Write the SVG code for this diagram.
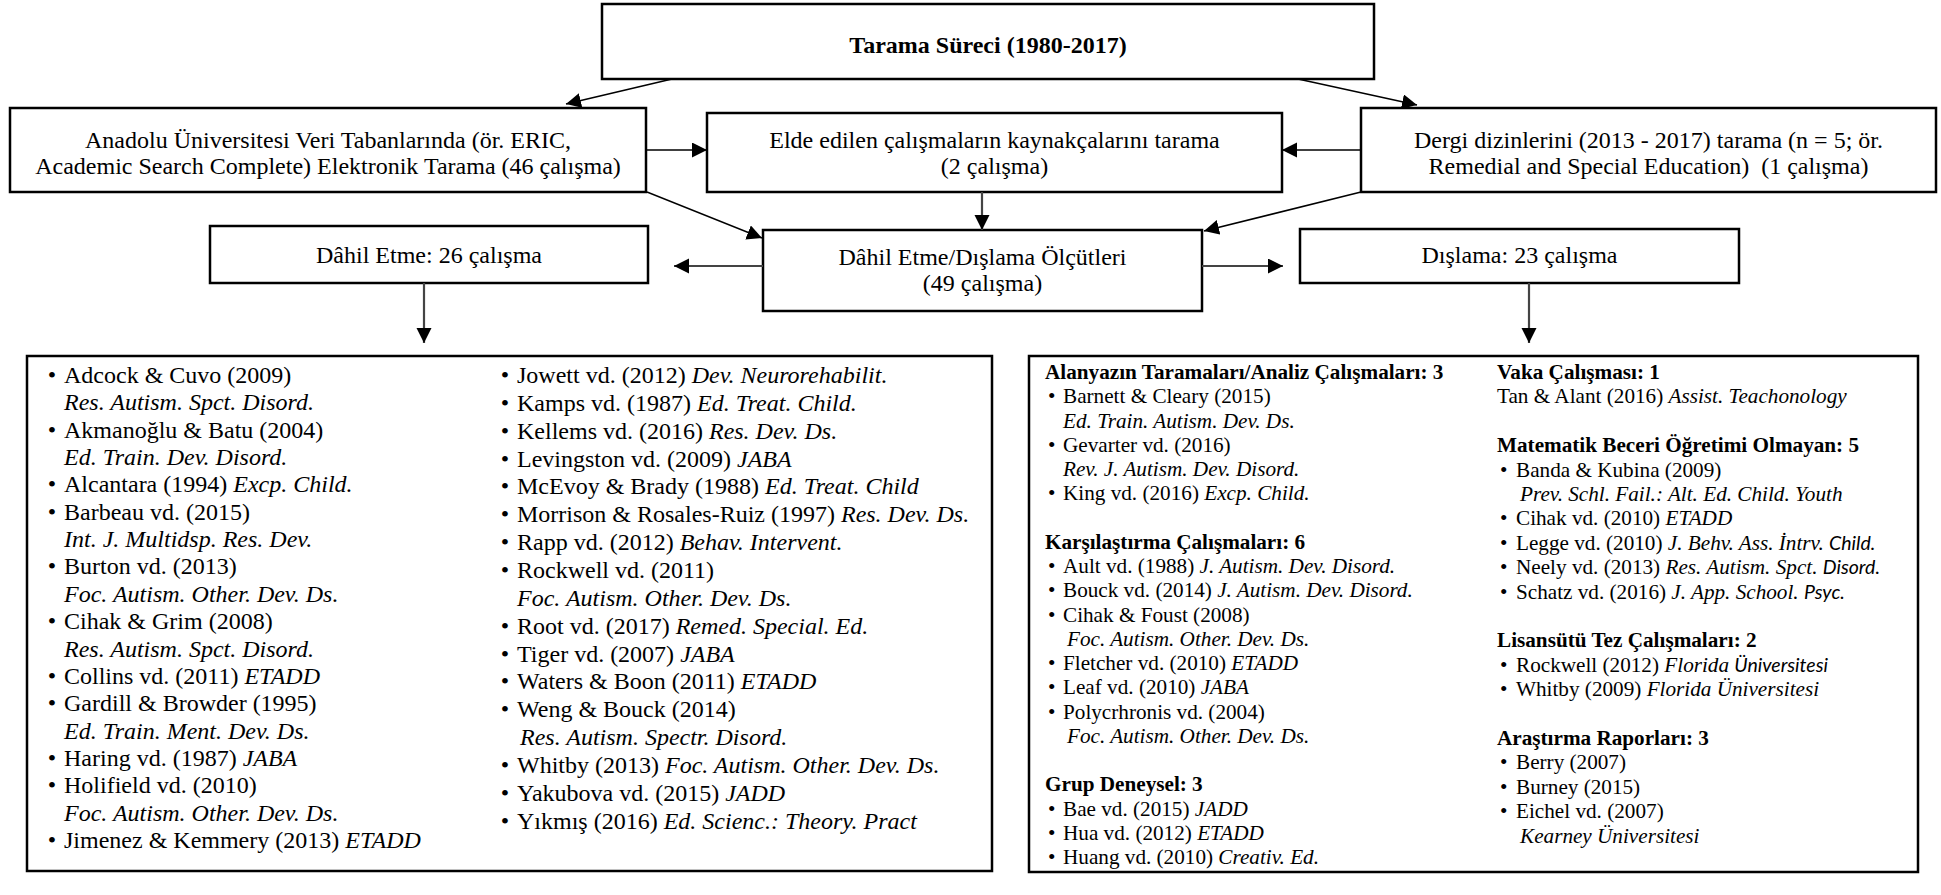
<svg xmlns="http://www.w3.org/2000/svg" width="1941" height="895" viewBox="0 0 1941 895">
<style>
.box{fill:#fff;stroke:#000;stroke-width:2.5}
.t{font-family:"Liberation Serif","Times New Roman",serif;font-size:24px;fill:#000}
.c{text-anchor:middle}
.b{font-weight:bold}
.i{font-style:italic}
.s{font-size:21.2px}
.sa{font-family:Lato,"Liberation Sans",sans-serif;font-style:italic;font-size:19.5px}
.ln{stroke:#000;stroke-width:1.5;fill:none}
.lg{stroke:#444;stroke-width:2.2;fill:none}
</style>
<defs>
<marker id="ah" markerUnits="userSpaceOnUse" markerWidth="16" markerHeight="16" refX="15" refY="7.5" orient="auto"><path d="M0,0 L15,7.5 L0,15 z" fill="#000"/></marker>
</defs>
<rect width="1941" height="895" fill="#fff"/>

<g id="n-tarama">
<rect class="box" x="602" y="4" width="772" height="75"/>
<text class="t b c" x="988" y="53">Tarama Süreci (1980-2017)</text>
</g>

<g id="n-anadolu">
<rect class="box" x="10" y="108" width="636" height="84"/>
<text class="t c" x="328" y="148">Anadolu Üniversitesi Veri Tabanlarında (ör. ERIC,</text>
<text class="t c" x="328" y="174">Academic Search Complete) Elektronik Tarama (46 çalışma)</text>
</g>

<g id="n-elde">
<rect class="box" x="707" y="113" width="575" height="79"/>
<text class="t c" x="994.5" y="148">Elde edilen çalışmaların kaynakçalarını tarama</text>
<text class="t c" x="994.5" y="174">(2 çalışma)</text>
</g>

<g id="n-dergi">
<rect class="box" x="1361" y="108" width="575" height="84"/>
<text class="t c" x="1648.5" y="148">Dergi dizinlerini (2013 - 2017) tarama (n = 5; ör.</text>
<text class="t c" x="1648.5" y="174" xml:space="preserve">Remedial and Special Education)  (1 çalışma)</text>
</g>

<g id="n-dahil">
<rect class="box" x="210" y="226" width="438" height="57"/>
<text class="t c" x="429" y="263">Dâhil Etme: 26 çalışma</text>
</g>

<g id="n-olcut">
<rect class="box" x="763" y="230" width="439" height="81"/>
<text class="t c" x="982.5" y="265">Dâhil Etme/Dışlama Ölçütleri</text>
<text class="t c" x="982.5" y="291">(49 çalışma)</text>
</g>

<g id="n-dislama">
<rect class="box" x="1300" y="229" width="439" height="54"/>
<text class="t c" x="1519.5" y="263">Dışlama: 23 çalışma</text>
</g>

<g id="n-dahil-liste">
<rect class="box" x="27" y="356" width="965" height="515"/>
<g class="t">
<text x="47.8" y="383">•</text><text x="64" y="383">Adcock &amp; Cuvo (2009)</text>
<text x="64" y="410.35" class="i">Res. Autism. Spct. Disord.</text>
<text x="47.8" y="437.7">•</text><text x="64" y="437.7">Akmanoğlu &amp; Batu (2004)</text>
<text x="64" y="465.05" class="i">Ed. Train. Dev. Disord.</text>
<text x="47.8" y="492.4">•</text><text x="64" y="492.4">Alcantara (1994) <tspan class="i">Excp. Child.</tspan></text>
<text x="47.8" y="519.75">•</text><text x="64" y="519.75">Barbeau vd. (2015)</text>
<text x="64" y="547.1" class="i">Int. J. Multidsp. Res. Dev.</text>
<text x="47.8" y="574.45">•</text><text x="64" y="574.45">Burton vd. (2013)</text>
<text x="64" y="601.8" class="i">Foc. Autism. Other. Dev. Ds.</text>
<text x="47.8" y="629.15">•</text><text x="64" y="629.15">Cihak &amp; Grim (2008)</text>
<text x="64" y="656.5" class="i">Res. Autism. Spct. Disord.</text>
<text x="47.8" y="683.85">•</text><text x="64" y="683.85">Collins vd. (2011) <tspan class="i">ETADD</tspan></text>
<text x="47.8" y="711.2">•</text><text x="64" y="711.2">Gardill &amp; Browder (1995)</text>
<text x="64" y="738.55" class="i">Ed. Train. Ment. Dev. Ds.</text>
<text x="47.8" y="765.9">•</text><text x="64" y="765.9">Haring vd. (1987) <tspan class="i">JABA</tspan></text>
<text x="47.8" y="793.25">•</text><text x="64" y="793.25">Holifield vd. (2010)</text>
<text x="64" y="820.6" class="i">Foc. Autism. Other. Dev. Ds.</text>
<text x="47.8" y="847.95">•</text><text x="64" y="847.95">Jimenez &amp; Kemmery (2013) <tspan class="i">ETADD</tspan></text>

<text x="500.8" y="383">•</text><text x="517" y="383">Jowett vd. (2012) <tspan class="i">Dev. Neurorehabilit.</tspan></text>
<text x="500.8" y="410.85">•</text><text x="517" y="410.85">Kamps vd. (1987) <tspan class="i">Ed. Treat. Child.</tspan></text>
<text x="500.8" y="438.7">•</text><text x="517" y="438.7">Kellems vd. (2016) <tspan class="i">Res. Dev. Ds.</tspan></text>
<text x="500.8" y="466.55">•</text><text x="517" y="466.55">Levingston vd. (2009) <tspan class="i">JABA</tspan></text>
<text x="500.8" y="494.4">•</text><text x="517" y="494.4">McEvoy &amp; Brady (1988) <tspan class="i">Ed. Treat. Child</tspan></text>
<text x="500.8" y="522.25">•</text><text x="517" y="522.25">Morrison &amp; Rosales-Ruiz (1997) <tspan class="i">Res. Dev. Ds.</tspan></text>
<text x="500.8" y="550.1">•</text><text x="517" y="550.1">Rapp vd. (2012) <tspan class="i">Behav. Intervent.</tspan></text>
<text x="500.8" y="577.95">•</text><text x="517" y="577.95">Rockwell vd. (2011)</text>
<text x="517" y="605.8" class="i">Foc. Autism. Other. Dev. Ds.</text>
<text x="500.8" y="633.65">•</text><text x="517" y="633.65">Root vd. (2017) <tspan class="i">Remed. Special. Ed.</tspan></text>
<text x="500.8" y="661.5">•</text><text x="517" y="661.5">Tiger vd. (2007) <tspan class="i">JABA</tspan></text>
<text x="500.8" y="689.35">•</text><text x="517" y="689.35">Waters &amp; Boon (2011) <tspan class="i">ETADD</tspan></text>
<text x="500.8" y="717.2">•</text><text x="517" y="717.2">Weng &amp; Bouck (2014)</text>
<text x="520" y="745.05" class="i">Res. Autism. Spectr. Disord.</text>
<text x="500.8" y="772.9">•</text><text x="517" y="772.9">Whitby (2013) <tspan class="i">Foc. Autism. Other. Dev. Ds.</tspan></text>
<text x="500.8" y="800.75">•</text><text x="517" y="800.75">Yakubova vd. (2015) <tspan class="i">JADD</tspan></text>
<text x="500.8" y="828.6">•</text><text x="517" y="828.6">Yıkmış (2016) <tspan class="i">Ed. Scienc.: Theory. Pract</tspan></text>
</g>
</g>

<g id="n-dislama-liste">
<rect class="box" x="1029" y="356" width="889" height="516"/>
<g class="t s">
<text x="1045" y="379" class="b">Alanyazın Taramaları/Analiz Çalışmaları: 3</text>
<text x="1048" y="403.25">•</text><text x="1063" y="403.25">Barnett &amp; Cleary (2015)</text>
<text x="1063" y="427.5" class="i">Ed. Train. Autism. Dev. Ds.</text>
<text x="1048" y="451.75">•</text><text x="1063" y="451.75">Gevarter vd. (2016)</text>
<text x="1063" y="476" class="i">Rev. J. Autism. Dev. Disord.</text>
<text x="1048" y="500.25">•</text><text x="1063" y="500.25">King vd. (2016) <tspan class="i">Excp. Child.</tspan></text>
<text x="1045" y="548.75" class="b">Karşılaştırma Çalışmaları: 6</text>
<text x="1048" y="573">•</text><text x="1063" y="573">Ault vd. (1988) <tspan class="i">J. Autism. Dev. Disord.</tspan></text>
<text x="1048" y="597.25">•</text><text x="1063" y="597.25">Bouck vd. (2014) <tspan class="i">J. Autism. Dev. Disord.</tspan></text>
<text x="1048" y="621.5">•</text><text x="1063" y="621.5">Cihak &amp; Foust (2008)</text>
<text x="1067" y="645.75" class="i">Foc. Autism. Other. Dev. Ds.</text>
<text x="1048" y="670">•</text><text x="1063" y="670">Fletcher vd. (2010) <tspan class="i">ETADD</tspan></text>
<text x="1048" y="694.25">•</text><text x="1063" y="694.25">Leaf vd. (2010) <tspan class="i">JABA</tspan></text>
<text x="1048" y="718.5">•</text><text x="1063" y="718.5">Polycrhronis vd. (2004)</text>
<text x="1067" y="742.75" class="i">Foc. Autism. Other. Dev. Ds.</text>
<text x="1045" y="791.25" class="b">Grup Deneysel: 3</text>
<text x="1048" y="815.5">•</text><text x="1063" y="815.5">Bae vd. (2015) <tspan class="i">JADD</tspan></text>
<text x="1048" y="839.75">•</text><text x="1063" y="839.75">Hua vd. (2012) <tspan class="i">ETADD</tspan></text>
<text x="1048" y="864">•</text><text x="1063" y="864">Huang vd. (2010) <tspan class="i">Creativ. Ed.</tspan></text>

<text x="1497" y="379" class="b">Vaka Çalışması: 1</text>
<text x="1497" y="403.4">Tan &amp; Alant (2016) <tspan class="i">Assist. Teachonology</tspan></text>
<text x="1497" y="452.2" class="b">Matematik Beceri Öğretimi Olmayan: 5</text>
<text x="1500" y="476.6">•</text><text x="1516" y="476.6">Banda &amp; Kubina (2009)</text>
<text x="1520" y="501" class="i">Prev. Schl. Fail.: Alt. Ed. Child. Youth</text>
<text x="1500" y="525.4">•</text><text x="1516" y="525.4">Cihak vd. (2010) <tspan class="i">ETADD</tspan></text>
<text x="1500" y="549.8">•</text><text x="1516" y="549.8">Legge vd. (2010) <tspan class="i">J. Behv. Ass. İntrv. </tspan><tspan class="sa">Child.</tspan></text>
<text x="1500" y="574.2">•</text><text x="1516" y="574.2">Neely vd. (2013) <tspan class="i">Res. Autism. Spct. </tspan><tspan class="sa">Disord.</tspan></text>
<text x="1500" y="598.6">•</text><text x="1516" y="598.6">Schatz vd. (2016) <tspan class="i">J. App. School. </tspan><tspan class="sa">Psyc.</tspan></text>
<text x="1497" y="647.4" class="b">Lisansütü Tez Çalışmaları: 2</text>
<text x="1500" y="671.8">•</text><text x="1516" y="671.8">Rockwell (2012) <tspan class="i">Florida </tspan><tspan class="sa">Üniversitesi</tspan></text>
<text x="1500" y="696.2">•</text><text x="1516" y="696.2">Whitby (2009) <tspan class="i">Florida Üniversitesi</tspan></text>
<text x="1497" y="745" class="b">Araştırma Raporları: 3</text>
<text x="1500" y="769.4">•</text><text x="1516" y="769.4">Berry (2007)</text>
<text x="1500" y="793.8">•</text><text x="1516" y="793.8">Burney (2015)</text>
<text x="1500" y="818.2">•</text><text x="1516" y="818.2">Eichel vd. (2007)</text>
<text x="1520" y="842.6" class="i">Kearney Üniversitesi</text>
</g>
</g>

<g id="connectors">
<line class="ln" x1="672" y1="79" x2="566" y2="104" marker-end="url(#ah)"/>
<line class="ln" x1="1298" y1="79" x2="1417" y2="105" marker-end="url(#ah)"/>
<line class="ln" x1="646" y1="150" x2="707" y2="150" marker-end="url(#ah)"/>
<line class="ln" x1="1361" y1="150" x2="1282" y2="150" marker-end="url(#ah)"/>
<line class="ln" x1="647" y1="192" x2="762" y2="238" marker-end="url(#ah)"/>
<line class="lg" x1="982" y1="192" x2="982" y2="230" marker-end="url(#ah)"/>
<line class="ln" x1="1361" y1="192" x2="1204" y2="231" marker-end="url(#ah)"/>
<line class="lg" x1="763" y1="266" x2="674" y2="266" marker-end="url(#ah)"/>
<line class="lg" x1="1202" y1="266" x2="1283" y2="266" marker-end="url(#ah)"/>
<line class="lg" x1="424" y1="283" x2="424" y2="343" marker-end="url(#ah)"/>
<line class="lg" x1="1529" y1="283" x2="1529" y2="343" marker-end="url(#ah)"/>
</g>
</svg>
